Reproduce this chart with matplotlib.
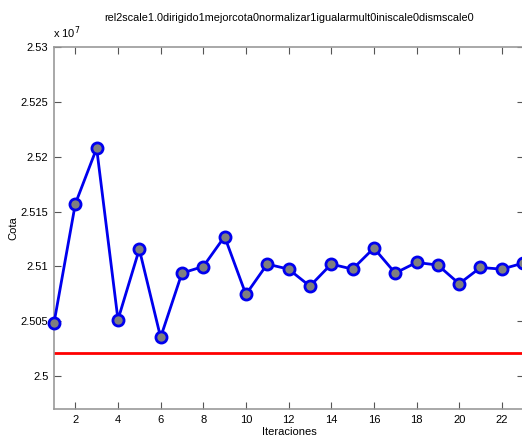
import numpy as np
import matplotlib.pyplot as plt
from matplotlib.ticker import FuncFormatter

plt.rcParams['font.family'] = ['Liberation Sans', 'DejaVu Sans']

# cota per iteration
iteraciones = list(range(1, 24))
cota = [25048400, 25157000, 25207700, 25051400, 25115700, 25035300, 25093900,
        25099900, 25127200, 25074400, 25102100, 25097500, 25082000, 25102100,
        25097500, 25116700, 25093900, 25103600, 25101200, 25084200, 25099000,
        25097500, 25103000]
referencia = 25020700

titulo = 'rel2scale1.0dirigido1mejorcota0normalizar1igualarmult0iniscale0dismscale0'
xticks = list(range(2, 24, 2))
yticks = [25000000, 25050000, 25100000, 25150000, 25200000, 25250000, 25300000]

fig = plt.figure(figsize=(5.22, 4.40), dpi=100)
ax = fig.add_axes([54/522, 31/440, 470/522, 362/440])

ax.axhline(referencia, color='#ff0000', lw=2)
ax.plot(iteraciones, cota, '-o', color='#0000ee', lw=2, ms=8,
        mfc='#7f7f7f', mec='#0000ee', mew=2, clip_on=False, zorder=3)

ax.set_xlim(1, 23.04)
ax.set_ylim(24970000, 25300000)
ax.set_xticks(xticks)
ax.set_yticks(yticks)
ax.yaxis.set_major_formatter(FuncFormatter(lambda v, p: ('%.3f' % (v/1e7)).rstrip('0').rstrip('.')))
ax.tick_params(direction='in', top=True, right=True, length=5, labelsize=8,
               color='#555555', pad=4)
for s in ax.spines.values():
    s.set_color('#999999')
    s.set_linewidth(1.2)

ax.set_title(titulo, fontsize=7.8, pad=19)
ax.set_xlabel('Iteraciones', fontsize=8, labelpad=2)
ax.set_ylabel('Cota', fontsize=8, labelpad=2)
fig.text(53/522, 1 - 33/440, 'x 10$^7$', fontsize=8, va='center')

fig.savefig('out.png', dpi=100)
